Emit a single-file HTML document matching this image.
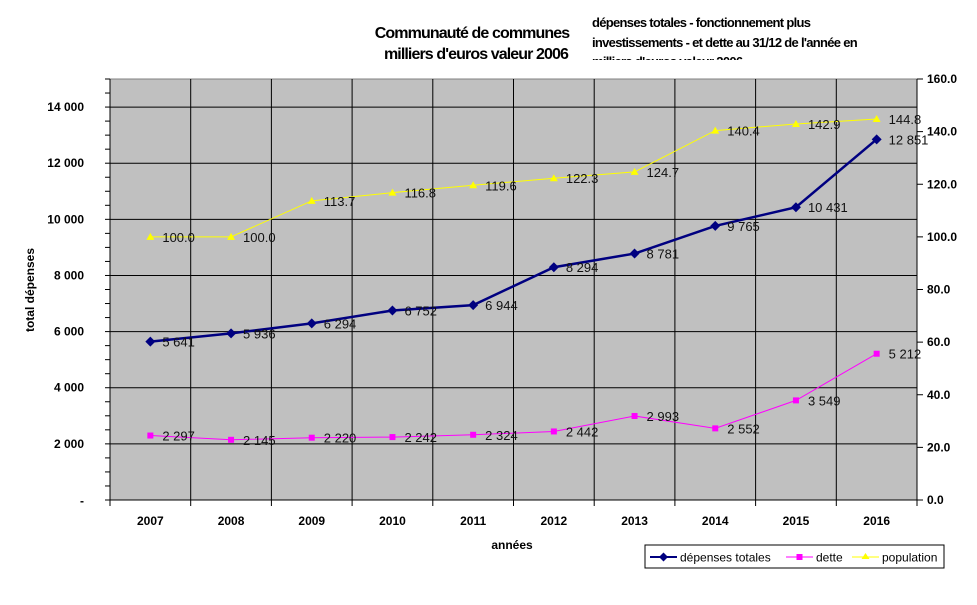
<!DOCTYPE html>
<html><head><meta charset="utf-8"><style>
body{margin:0;background:#fff;width:977px;height:600px;overflow:hidden;font-family:"Liberation Sans",Arial,sans-serif}
</style></head><body>
<svg id="chart" width="977" height="600" xmlns="http://www.w3.org/2000/svg" font-family="Liberation Sans, Arial, sans-serif">
<text x="472" y="38" font-size="16" font-weight="bold" text-anchor="middle" letter-spacing="-0.9">Communauté de communes</text>
<text x="476" y="59" font-size="16" font-weight="bold" text-anchor="middle" letter-spacing="-0.9">milliers d'euros valeur 2006</text>
<svg x="590" y="10" width="320" height="50" overflow="hidden">
<text font-size="13" font-weight="bold" letter-spacing="-0.7"><tspan x="2" y="17">dépenses totales - fonctionnement plus</tspan><tspan x="2" y="37">investissements - et dette au 31/12 de l'année en</tspan><tspan x="2" y="56">milliers d'euros valeur 2006</tspan></text>
</svg>
<g id="plot"></g>
<text transform="translate(34,290) rotate(-90)" font-size="12" font-weight="bold" text-anchor="middle">total dépenses</text>
<text x="512" y="549" font-size="12" font-weight="bold" text-anchor="middle">années</text>
<g>
<rect x="645" y="545" width="299" height="23" fill="#fff" stroke="#000"/>
<line x1="650" y1="557" x2="677" y2="557" stroke="#000080" stroke-width="2"/><path d="M663.5 552.5l4.5 4.5-4.5 4.5-4.5-4.5z" fill="#000080"/>
<text x="680" y="561.5" font-size="12">dépenses totales</text>
<line x1="786" y1="557" x2="813" y2="557" stroke="#ff00ff"/><rect x="796.5" y="554" width="6" height="6" fill="#ff00ff"/>
<text x="816" y="561.5" font-size="12">dette</text>
<line x1="852" y1="557" x2="879" y2="557" stroke="#ffff00"/><path d="M865.5 553l4 6h-8z" fill="#ffff00"/>
<text x="882" y="561.5" font-size="12">population</text>
</g>
</svg>
<script>
const years=["2007","2008","2009","2010","2011","2012","2013","2014","2015","2016"];
const depenses=[5641,5936,6294,6752,6944,8294,8781,9765,10431,12851];
const dette=[2297,2145,2220,2242,2324,2442,2993,2552,3549,5212];
const population=[100.0,100.0,113.7,116.8,119.6,122.3,124.7,140.4,142.9,144.8];
const leftTicks=[2000,4000,6000,8000,10000,12000,14000];
const rightTicks=[0,20,40,60,80,100,120,140,160];

const NS="http://www.w3.org/2000/svg";
const g=document.getElementById('plot');
const X0=110,X1=917,Y0=500,Y1=79,LMAX=15000,RMAX=160;
const cw=(X1-X0)/years.length;
const xs=i=>X0+cw*(i+0.5);
const yl=v=>Y0-(Y0-Y1)*v/LMAX;
const yr=v=>Y0-(Y0-Y1)*v/RMAX;
function el(t,a,p){const e=document.createElementNS(NS,t);for(const k in a)e.setAttribute(k,a[k]);(p||g).appendChild(e);return e;}
const fmt=v=>String(v).replace(/\B(?=(\d{3})+(?!\d))/g,' ');

const bg=el('rect',{x:X0,y:Y1,width:X1-X0,height:Y0-Y1,fill:'#c0c0c0',stroke:'#808080'});


for(const t of leftTicks){
 const ln=el('line',{x1:X0,x2:X1,y1:yl(t),y2:yl(t),stroke:'#000'});
 
 
 const tx=el('text',{x:X0-26,y:yl(t)+4,'font-size':12,'font-weight':'bold','text-anchor':'end'});
 tx.textContent=fmt(t);
 
 
}
const z=el('text',{x:X0-26,y:Y0+5,'font-size':12,'font-weight':'bold','text-anchor':'end'});z.textContent='-';


for(let v=0;v<=LMAX;v+=500) el('line',{x1:X0-5,x2:X0,y1:yl(v),y2:yl(v),stroke:'#000'});
for(let i=1;i<years.length;i++) el('line',{x1:X0+cw*i,x2:X0+cw*i,y1:Y1,y2:Y0,stroke:'#000'});
for(let i=0;i<=years.length;i++) el('line',{x1:X0+cw*i,x2:X0+cw*i,y1:Y0,y2:Y0+6,stroke:'#000'});
el('line',{x1:X0,x2:X0,y1:Y1,y2:Y0,stroke:'#000'});
el('line',{x1:X1,x2:X1,y1:Y1,y2:Y0,stroke:'#000'});
el('line',{x1:X0,x2:X1,y1:Y0,y2:Y0,stroke:'#000'});
years.forEach((y,i)=>{const t=el('text',{x:xs(i),y:Y0+25,'font-size':12,'font-weight':'bold','text-anchor':'middle'});t.textContent=y;
 
 });
for(const t of rightTicks){
 el('line',{x1:X1,x2:X1+6,y1:yr(t),y2:yr(t),stroke:'#000'});
 const tx=el('text',{x:X1+10,y:yr(t)+4,'font-size':12,'font-weight':'bold'});tx.textContent=t.toFixed(1);
 
 
}
function series(vals,yf,color,w,marker,name,lab){
 const pl=el('polyline',{points:vals.map((v,i)=>xs(i)+','+yf(v)).join(' '),fill:'none',stroke:color,'stroke-width':w});
 
 
 vals.forEach((v,i)=>{const x=xs(i),y=yf(v);let m;
  if(marker==='d')m=el('path',{d:`M${x} ${y-5}l5 5-5 5-5-5z`,fill:color});
  else if(marker==='s')m=el('rect',{x:x-3,y:y-3,width:6,height:6,fill:color});
  else m=el('path',{d:`M${x} ${y-4}l4 7h-8z`,fill:color});
  
  
  const t=el('text',{x:x+12,y:y+5,'font-size':13,fill:'#111'});t.textContent=lab(v);
  
  
 });
}
series(population,yr,'#ffff00',1,'t','population',v=>v.toFixed(1));
series(dette,yl,'#ff00ff',1,'s','dette',fmt);
series(depenses,yl,'#000080',2.5,'d','depenses',fmt);
</script>
</body></html>
